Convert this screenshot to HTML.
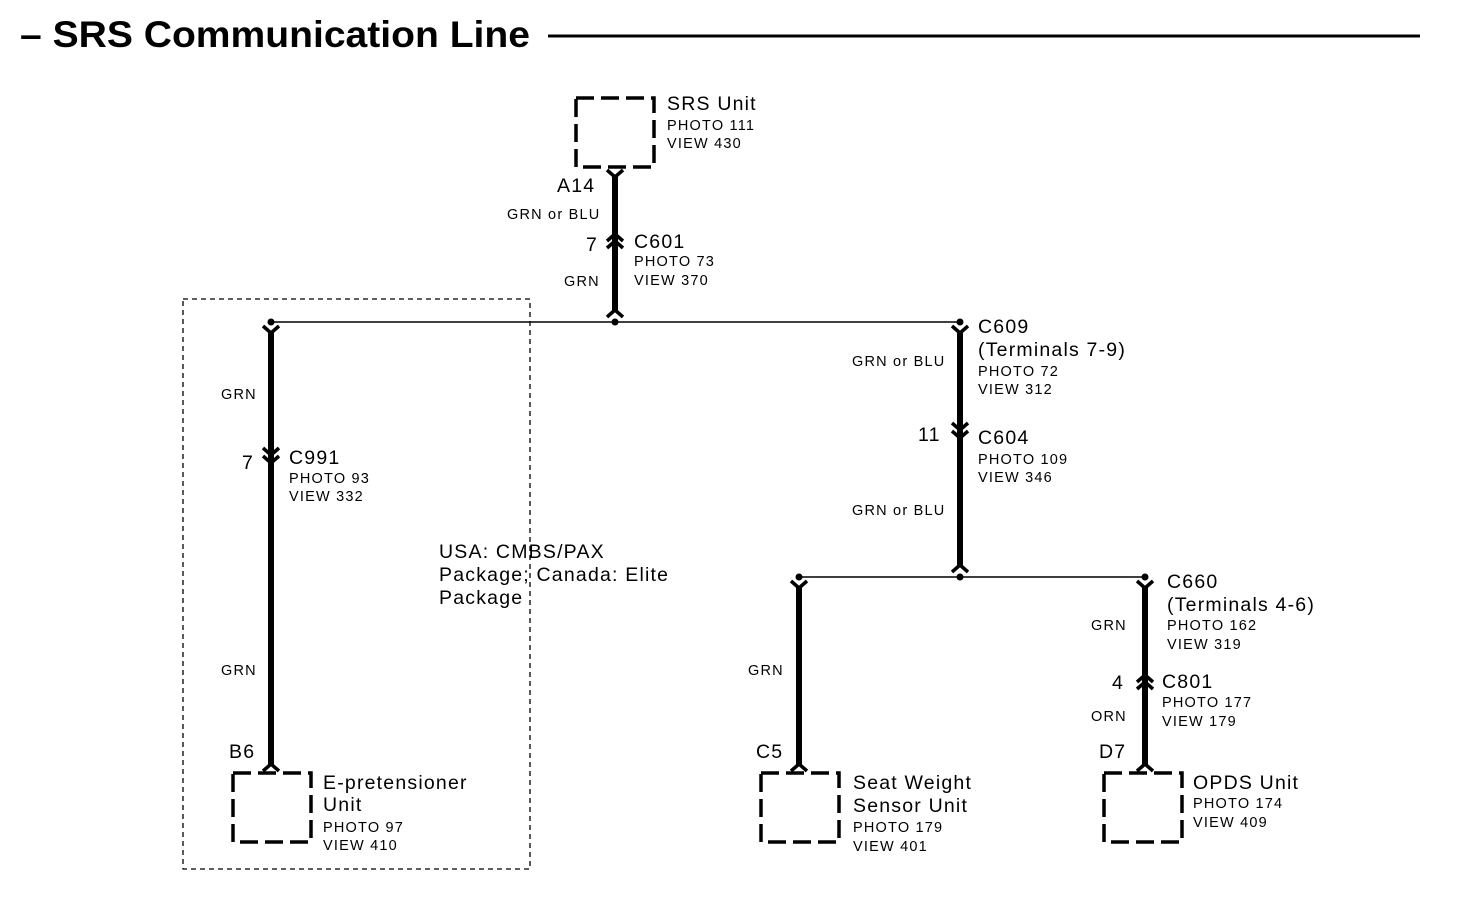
<!DOCTYPE html>
<html><head><meta charset="utf-8"><style>
body{margin:0;background:#fff}
svg{display:block}
text{font-family:"Liberation Sans",Arial,sans-serif;fill:#000}
.b{font-size:19.5px;letter-spacing:1.2px}.s{font-size:14.5px;letter-spacing:1.2px}
</style></head><body>
<svg width="1472" height="900" viewBox="0 0 1472 900">
<text x="20" y="47" font-size="37" font-weight="bold" textLength="510" lengthAdjust="spacingAndGlyphs">– SRS Communication Line</text>
<line x1="548" y1="36" x2="1420" y2="36" stroke="#000" stroke-width="3"/>

<g fill="none" stroke="#000" stroke-width="3.5" stroke-dasharray="18,7">
<rect x="576" y="98" width="78" height="69"/>
<rect x="233" y="773" width="78" height="69"/>
<rect x="761" y="773" width="78" height="69"/>
<rect x="1104" y="773" width="78" height="69"/>
</g>
<rect x="183" y="299" width="347" height="570" fill="none" stroke="#000" stroke-width="1.3" stroke-dasharray="5,4"/>

<g stroke="#000" stroke-width="1.5">
<line x1="271" y1="322" x2="960" y2="322"/>
<line x1="799" y1="577" x2="1145" y2="577"/>
</g>
<g fill="#000">
<circle cx="271" cy="322" r="3.5"/><circle cx="615" cy="322" r="3.5"/><circle cx="960" cy="322" r="3.5"/>
<circle cx="799" cy="577" r="3.5"/><circle cx="960" cy="577" r="3.5"/><circle cx="1145" cy="577" r="3.5"/>
</g>
<g stroke="#000" stroke-width="6">
<line x1="615" y1="176" x2="615" y2="312"/>
<line x1="271" y1="332" x2="271" y2="766"/>
<line x1="960" y1="332" x2="960" y2="567"/>
<line x1="799" y1="587" x2="799" y2="766"/>
<line x1="1145" y1="587" x2="1145" y2="766"/>
</g>
<g fill="none" stroke="#000" stroke-width="3.5" stroke-linejoin="miter">
<path d="M607 170 L615 177 L623 170"/>
<path d="M607 241 L615 234 L623 241"/><path d="M607 248 L615 241 L623 248"/>
<path d="M607 317 L615 310 L623 317"/>
<path d="M263 326 L271 333 L279 326"/>
<path d="M263 448 L271 455 L279 448"/><path d="M263 456 L271 463 L279 456"/>
<path d="M263 771 L271 764 L279 771"/>
<path d="M952 326 L960 333 L968 326"/>
<path d="M952 423 L960 430 L968 423"/><path d="M952 431 L960 438 L968 431"/>
<path d="M952 572 L960 565 L968 572"/>
<path d="M791 581 L799 588 L807 581"/>
<path d="M791 771 L799 764 L807 771"/>
<path d="M1137 581 L1145 588 L1153 581"/>
<path d="M1137 682 L1145 675 L1153 682"/><path d="M1137 689 L1145 682 L1153 689"/>
<path d="M1137 771 L1145 764 L1153 771"/>
</g>

<text class="b" x="667" y="110">SRS Unit</text>
<text class="s" x="667" y="130">PHOTO 111</text>
<text class="s" x="667" y="148">VIEW 430</text>
<text class="b" x="557" y="192">A14</text>
<text class="s" x="507" y="219">GRN or BLU</text>
<text class="b" x="586" y="251">7</text>
<text class="b" x="634" y="248">C601</text>
<text class="s" x="634" y="266">PHOTO 73</text>
<text class="s" x="634" y="285">VIEW 370</text>
<text class="s" x="564" y="286">GRN</text>

<text class="s" x="221" y="399">GRN</text>
<text class="b" x="242" y="469">7</text>
<text class="b" x="289" y="464">C991</text>
<text class="s" x="289" y="483">PHOTO 93</text>
<text class="s" x="289" y="501">VIEW 332</text>
<text class="s" x="221" y="675">GRN</text>
<text class="b" x="229" y="758">B6</text>
<text class="b" x="323" y="789">E-pretensioner</text>
<text class="b" x="323" y="811">Unit</text>
<text class="s" x="323" y="832">PHOTO 97</text>
<text class="s" x="323" y="850">VIEW 410</text>

<text class="b" x="439" y="558">USA: CMBS/PAX</text>
<text class="b" x="439" y="581">Package; Canada: Elite</text>
<text class="b" x="439" y="604">Package</text>

<text class="b" x="978" y="333">C609</text>
<text class="b" x="978" y="356">(Terminals 7-9)</text>
<text class="s" x="978" y="376">PHOTO 72</text>
<text class="s" x="978" y="394">VIEW 312</text>
<text class="s" x="852" y="366">GRN or BLU</text>
<text class="b" x="918" y="441">11</text>
<text class="b" x="978" y="444">C604</text>
<text class="s" x="978" y="464">PHOTO 109</text>
<text class="s" x="978" y="482">VIEW 346</text>
<text class="s" x="852" y="515">GRN or BLU</text>

<text class="s" x="748" y="675">GRN</text>
<text class="b" x="756" y="758">C5</text>
<text class="b" x="853" y="789">Seat Weight</text>
<text class="b" x="853" y="812">Sensor Unit</text>
<text class="s" x="853" y="832">PHOTO 179</text>
<text class="s" x="853" y="851">VIEW 401</text>

<text class="b" x="1167" y="588">C660</text>
<text class="b" x="1167" y="611">(Terminals 4-6)</text>
<text class="s" x="1167" y="630">PHOTO 162</text>
<text class="s" x="1167" y="649">VIEW 319</text>
<text class="s" x="1091" y="630">GRN</text>
<text class="b" x="1112" y="689">4</text>
<text class="b" x="1162" y="688">C801</text>
<text class="s" x="1162" y="707">PHOTO 177</text>
<text class="s" x="1162" y="726">VIEW 179</text>
<text class="s" x="1091" y="721">ORN</text>
<text class="b" x="1099" y="758">D7</text>
<text class="b" x="1193" y="789">OPDS Unit</text>
<text class="s" x="1193" y="808">PHOTO 174</text>
<text class="s" x="1193" y="827">VIEW 409</text>
</svg>
</body></html>
